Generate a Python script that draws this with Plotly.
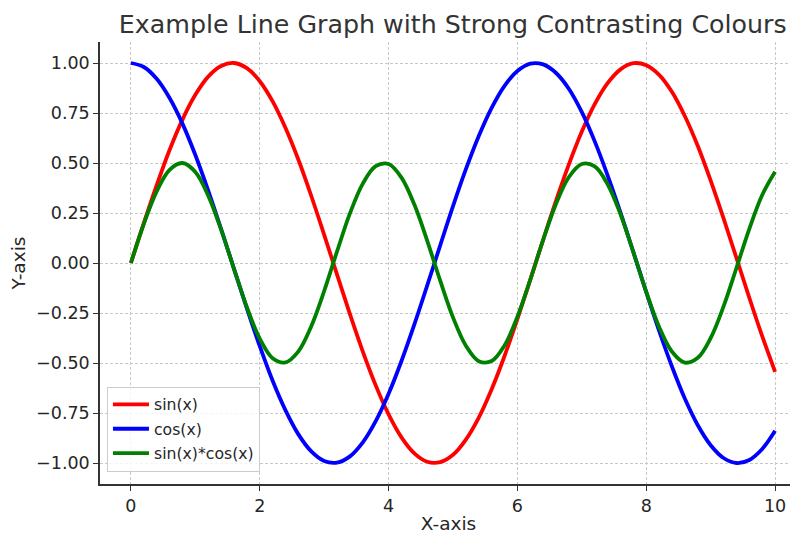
import plotly.graph_objects as go

x_vals = [round(i * 0.2, 1) for i in range(51)]

sin_vals = [0.000, 0.199, 0.389, 0.565, 0.717, 0.841, 0.932, 0.985, 1.000, 0.974,
            0.909, 0.808, 0.675, 0.516, 0.335, 0.141, -0.058, -0.256, -0.443, -0.612,
            -0.757, -0.872, -0.952, -0.994, -0.996, -0.959, -0.883, -0.773, -0.631, -0.465,
            -0.279, -0.083, 0.117, 0.312, 0.494, 0.657, 0.794, 0.899, 0.968, 0.999,
            0.989, 0.941, 0.855, 0.734, 0.585, 0.412, 0.223, 0.025, -0.174, -0.366,
            -0.544]

cos_vals = [1.000, 0.980, 0.921, 0.825, 0.697, 0.540, 0.362, 0.170, -0.029, -0.227,
            -0.416, -0.589, -0.737, -0.857, -0.942, -0.990, -0.998, -0.967, -0.897, -0.791,
            -0.654, -0.490, -0.307, -0.112, 0.087, 0.284, 0.469, 0.635, 0.776, 0.886,
            0.960, 0.997, 0.993, 0.950, 0.870, 0.754, 0.608, 0.438, 0.252, 0.054,
            -0.146, -0.340, -0.519, -0.679, -0.811, -0.911, -0.975, -1.000, -0.985, -0.930,
            -0.839]

prod_vals = [0.000, 0.195, 0.358, 0.466, 0.500, 0.455, 0.337, 0.167, -0.029, -0.221,
             -0.378, -0.476, -0.497, -0.442, -0.316, -0.140, 0.058, 0.248, 0.397, 0.484,
             0.495, 0.427, 0.292, 0.111, -0.087, -0.272, -0.414, -0.491, -0.490, -0.412,
             -0.268, -0.083, 0.116, 0.296, 0.430, 0.495, 0.483, 0.394, 0.244, 0.054,
             -0.144, -0.320, -0.444, -0.498, -0.474, -0.375, -0.217, -0.025, 0.171, 0.340,
             0.456]

series_names = ["sin(x)", "cos(x)", "sin(x)*cos(x)"]
series_colors = ["#ff0000", "#0000ff", "#008000"]
y_tick_vals = [-1.0, -0.75, -0.5, -0.25, 0.0, 0.25, 0.5, 0.75, 1.0]
y_tick_text = ["\u22121.00", "\u22120.75", "\u22120.50", "\u22120.25", "0.00", "0.25", "0.50", "0.75", "1.00"]
x_tick_vals = [0, 2, 4, 6, 8, 10]

fig = go.Figure()
for i, (name, ys, col) in enumerate(zip(series_names, [sin_vals, cos_vals, prod_vals], series_colors)):
    fig.add_trace(go.Scatter(x=x_vals, y=ys, mode="lines", name=name, legendgroup=f"g{i}",
                             line=dict(color=col, width=3.8, shape="spline", smoothing=1)))

font_family = "DejaVu Sans"
axis_common = dict(showline=True, linecolor="#333333", linewidth=1.5, ticks="outside",
                   ticklen=5, tickwidth=1.2, tickcolor="#333333", showgrid=True,
                   gridcolor="#c8c8c8", griddash="3px,2px", gridwidth=1, zeroline=False,
                   automargin=False, tickfont=dict(size=17.5, color="#262626"))
fig.update_layout(
    width=790, height=526,
    margin=dict(l=92, r=1, t=34, b=50),
    paper_bgcolor="white", plot_bgcolor="white",
    font=dict(family=font_family, color="#333333", size=16),
    title=dict(text="Example Line Graph with Strong Contrasting Colours",
               x=0.563, xanchor="center", y=1 - 16 / 526, yanchor="middle",
               font=dict(size=25.3, color="#333333")),
    showlegend=True,
    legend=dict(x=0.01, y=0.028, xanchor="left", yanchor="bottom",
                bgcolor="rgba(255,255,255,0.8)", bordercolor="#cccccc", borderwidth=1,
                font=dict(size=15.7, color="#262626"), itemwidth=36,
                traceorder="grouped", tracegroupgap=1),
    xaxis=dict(range=[-0.48, 10.34], tickvals=x_tick_vals,
               title=dict(text="X-axis", font=dict(size=18.5, color="#262626"), standoff=4),
               **axis_common),
    yaxis=dict(range=[-1.105, 1.105], tickvals=y_tick_vals, ticktext=y_tick_text,
               title=dict(text="Y-axis", font=dict(size=18.5, color="#262626"), standoff=6),
               **axis_common),
)

fig.write_html("out.html")
